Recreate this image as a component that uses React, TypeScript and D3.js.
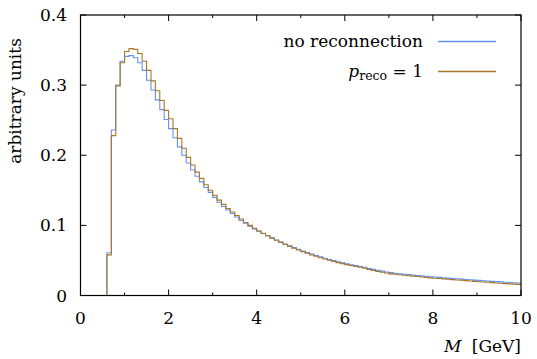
import React from "react";
import * as d3 from "d3";

const binStart = 0.6;
const binWidth = 0.1;

const noReconnection = [
  0.061, 0.236, 0.300, 0.334, 0.341, 0.342, 0.339, 0.332, 0.321, 0.307,
  0.293, 0.279, 0.265, 0.251, 0.238, 0.225, 0.212, 0.200, 0.189, 0.179,
  0.170, 0.162, 0.154, 0.147, 0.140, 0.133, 0.127, 0.122, 0.117, 0.112,
  0.107, 0.103, 0.099, 0.095, 0.0918, 0.0886, 0.0853, 0.0822, 0.0792, 0.0763,
  0.0735, 0.0708, 0.0683, 0.0658, 0.0635, 0.0612, 0.0591, 0.0570, 0.0551, 0.0532,
  0.0514, 0.0497, 0.0481, 0.0466, 0.0452, 0.0439, 0.0426, 0.0414, 0.0402, 0.0385,
  0.0372, 0.0360, 0.0348, 0.0336, 0.0326, 0.0318, 0.0311, 0.0304, 0.0298, 0.0292,
  0.0286, 0.0280, 0.0274, 0.0268, 0.0263, 0.0258, 0.0253, 0.0248, 0.0243, 0.0238,
  0.0233, 0.0229, 0.0224, 0.0219, 0.0215, 0.0210, 0.0206, 0.0202, 0.0198, 0.0194,
  0.0190, 0.0186, 0.0182, 0.0178,
];

const preco1 = [
  0.058, 0.228, 0.299, 0.332, 0.348, 0.352, 0.351, 0.345, 0.334, 0.321,
  0.306, 0.292, 0.278, 0.264, 0.252, 0.238, 0.224, 0.210, 0.197, 0.186,
  0.176, 0.167, 0.158, 0.150, 0.143, 0.136, 0.130, 0.124, 0.119, 0.114,
  0.109, 0.104, 0.100, 0.096, 0.0920, 0.0885, 0.0851, 0.0818, 0.0787, 0.0757,
  0.0728, 0.0700, 0.0674, 0.0649, 0.0625, 0.0602, 0.0580, 0.0559, 0.0539, 0.0520,
  0.0502, 0.0485, 0.0469, 0.0454, 0.0440, 0.0427, 0.0414, 0.0402, 0.0390, 0.0370,
  0.0357, 0.0344, 0.0332, 0.0320, 0.0309, 0.0302, 0.0295, 0.0288, 0.0282, 0.0276,
  0.0270, 0.0264, 0.0258, 0.0252, 0.0247, 0.0242, 0.0237, 0.0232, 0.0227, 0.0222,
  0.0217, 0.0212, 0.0207, 0.0202, 0.0197, 0.0192, 0.0188, 0.0183, 0.0179, 0.0174,
  0.0170, 0.0166, 0.0162, 0.0158,
];

const xMajorTicks = [0, 2, 4, 6, 8, 10];
const xMinorTicks = [1, 3, 5, 7, 9];
const yTicks = [0, 0.1, 0.2, 0.3, 0.4];
const yTickLabels = ["0", "0.1", "0.2", "0.3", "0.4"];

const W = 537;
const H = 359;
const left = 80.5;
const right = 521;
const top = 15;
const bottom = 295.5;
const FONT = "DejaVu Serif";
const BLUE = "#6393f2";
const BROWN = "#a8762c";
const ts = { fontFamily: FONT, fontSize: "17px" };

export default function App() {
  const x = d3.scaleLinear().domain([0, 10]).range([left, right]);
  const y = d3.scaleLinear().domain([0, 0.4]).range([bottom, top]);

  const stepPath = (vals: number[]) => {
    const p = d3.path();
    p.moveTo(x(binStart), y(0));
    vals.forEach((v, i) => {
      const a = binStart + i * binWidth;
      p.lineTo(x(a), y(v));
      p.lineTo(x(a + binWidth), y(v));
    });
    return p.toString();
  };

  return (
    <svg
      width={W}
      height={H}
      style={{ position: "absolute", left: 0, top: 0, background: "#fff" }}
    >
      <defs>
        <clipPath id="plotClip">
          <rect x={left} y={top} width={right - left} height={bottom - top} />
        </clipPath>
      </defs>
      <g clipPath="url(#plotClip)" fill="none" strokeWidth={1.1}>
        <path d={stepPath(noReconnection)} stroke={BLUE} />
        <path d={stepPath(preco1)} stroke={BROWN} />
      </g>

      <rect
        x={left}
        y={top}
        width={right - left}
        height={bottom - top}
        fill="none"
        stroke="#000"
        strokeWidth={1.2}
      />

      {xMajorTicks.map((t) => (
        <g key={"xM" + t}>
          <line x1={x(t)} x2={x(t)} y1={bottom} y2={bottom - 6} stroke="#000" />
          <line x1={x(t)} x2={x(t)} y1={top} y2={top + 6} stroke="#000" />
          <text x={x(t)} y={324} textAnchor="middle" style={ts}>
            {t}
          </text>
        </g>
      ))}
      {xMinorTicks.map((t) => (
        <g key={"xm" + t}>
          <line x1={x(t)} x2={x(t)} y1={bottom} y2={bottom - 3} stroke="#000" />
          <line x1={x(t)} x2={x(t)} y1={top} y2={top + 3} stroke="#000" />
        </g>
      ))}

      {yTicks.map((t, i) => (
        <g key={"y" + t}>
          <line x1={left} x2={left + 6} y1={y(t)} y2={y(t)} stroke="#000" />
          <line x1={right} x2={right - 6} y1={y(t)} y2={y(t)} stroke="#000" />
          <text x={67} y={y(t) + 6} textAnchor="end" style={ts}>
            {yTickLabels[i]}
          </text>
        </g>
      ))}

      <text x={521} y={352} textAnchor="end" style={ts}>
        <tspan fontStyle="italic">M</tspan>
        <tspan dx={5}> [GeV]</tspan>
      </text>
      <text
        transform={`translate(21, 101) rotate(-90)`}
        textAnchor="middle"
        style={ts}
      >
        arbitrary units
      </text>

      <text x={423} y={47} textAnchor="end" style={ts}>
        no reconnection
      </text>
      <line x1={438} x2={496} y1={41.5} y2={41.5} stroke={BLUE} strokeWidth={1.3} />
      <text x={423} y={77} textAnchor="end" style={ts}>
        <tspan fontStyle="italic">p</tspan>
        <tspan style={{ fontSize: "12.5px" }} dy={3}>reco</tspan>
        <tspan dy={-3}> = 1</tspan>
      </text>
      <line x1={438} x2={496} y1={71.5} y2={71.5} stroke={BROWN} strokeWidth={1.3} />
    </svg>
  );
}
